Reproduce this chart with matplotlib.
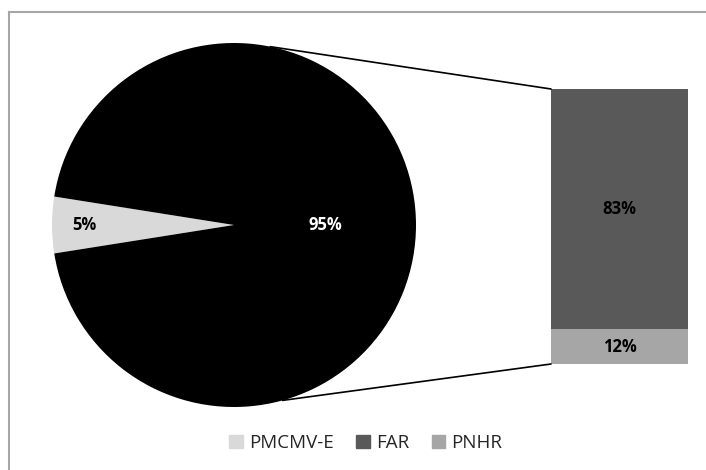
import matplotlib

matplotlib.use("Agg")
import matplotlib.pyplot as plt
import numpy as np
from matplotlib.patches import ConnectionPatch, Rectangle
from matplotlib.lines import Line2D

plt.rcParams["font.family"] = ["Open Sans", "DejaVu Sans"]

# pie: the "other" slice (FAR + PNHR) is split out into the bar on the right
pie_labels = ["PMCMV-E", "outros"]
pie_values = [5, 95]
bar_labels = ["PNHR", "FAR"]
bar_values = [12, 83]

LIGHT, DARK, MID = "#d9d9d9", "#595959", "#a6a6a6"

fig = plt.figure(figsize=(7.06, 4.70), dpi=100)
W, H = 706, 470


def px_axes(left, top, right, bottom):
    return fig.add_axes([left / W, 1 - bottom / H, (right - left) / W, (bottom - top) / H])


# chart frame (only top and left edge show in the crop)
fig.add_artist(Line2D([9 / W, 9 / W], [0, 1 - 12 / H], color="#a6a6a6", lw=1.5))
fig.add_artist(Line2D([9 / W, 1], [1 - 12 / H, 1 - 12 / H], color="#a6a6a6", lw=1.5))

ax_pie = px_axes(52, 43, 416, 407)
ax_pie.pie(pie_values, colors=[LIGHT, "black"], startangle=180 - 0.05 * 180,
           counterclock=True, radius=1, wedgeprops=dict(linewidth=0))
ax_pie.set_xlim(-1, 1)
ax_pie.set_ylim(-1, 1)
ax_pie.set_aspect("equal")
ax_pie.axis("off")
ax_pie.text(-0.82, 0, f"{pie_values[0]}%", ha="center", va="center",
            fontsize=12, fontweight="bold", color="black")
ax_pie.text(0.50, 0, f"{pie_values[1]}%", ha="center", va="center",
            fontsize=12, fontweight="bold", color="white")

ax_bar = px_axes(551, 89, 688, 364)
bottom = 0
for lab, val, col in zip(bar_labels, bar_values, [MID, DARK]):
    ax_bar.bar(0.5, val, width=1, bottom=bottom, color=col, linewidth=0)
    ax_bar.text(0.5, bottom + val / 2, f"{val}%", ha="center", va="center",
                fontsize=12, fontweight="bold", color="black")
    bottom += val
ax_bar.set_xlim(0, 1)
ax_bar.set_ylim(0, sum(bar_values))
ax_bar.axis("off")

# connector lines from the pie edge to the bar corners
top_ang, bot_ang = np.deg2rad(78.5), np.deg2rad(-74.5)
for ang, yb in ((top_ang, sum(bar_values)), (bot_ang, 0)):
    con = ConnectionPatch(xyA=(np.cos(ang), np.sin(ang)), coordsA=ax_pie.transData,
                          xyB=(0, yb), coordsB=ax_bar.transData,
                          color="black", lw=1.2)
    fig.add_artist(con)

handles = [Rectangle((0, 0), 1, 1, color=c) for c in (LIGHT, DARK, MID)]
fig.legend(handles, ["PMCMV-E", "FAR", "PNHR"], loc="center",
           bbox_to_anchor=(366 / W, 1 - 443 / H), ncol=3, frameon=False,
           fontsize=13.5, handlelength=0.7, handleheight=0.7, handletextpad=0.35,
           columnspacing=1.2, labelcolor="#262626")

fig.savefig("out.png", dpi=100)
